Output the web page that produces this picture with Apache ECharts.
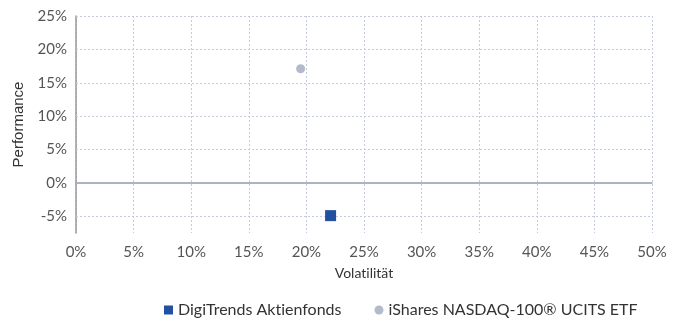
<!DOCTYPE html>
<html>
<head>
<meta charset="utf-8">
<script src="https://cdn.jsdelivr.net/npm/echarts@6/dist/echarts.min.js"></script>
<style>
  html, body { margin: 0; padding: 0; background: #fff; }
  #chart { width: 680px; height: 322px; }
</style>
</head>
<body>
<div id="chart"></div>
<script>
// Risk / return of the two funds (volatility %, performance %)
// (a zero-width non-joiner keeps the font from fusing "ti" into a ligature)
const seriesNames = ['DigiTrends Akt\u200Cienfonds', 'iShares NASDAQ-100® UCITS ETF'];
const digiTrends = [[22.1, -4.9]];
const iShares = [[19.5, 17.1]];
const yTicks = [-5, 0, 5, 10, 15, 20, 25];
const xTicks = [0, 5, 10, 15, 20, 25, 30, 35, 40, 45, 50];

const font = 'Lato, "Open Sans", sans-serif';
const gridColor = '#c5cbdc';

const chart = echarts.init(document.getElementById('chart'));
chart.setOption({
  animation: false,
  grid: { left: 76, right: 28, top: 16, bottom: 89 },
  legend: {
    top: 297,
    left: 159,
    itemGap: 33,
    itemWidth: 9,
    itemHeight: 9,
    textStyle: { fontFamily: font, fontSize: 16, color: '#333' },
    data: [
      { name: seriesNames[0], icon: 'rect' },
      { name: seriesNames[1], icon: 'circle' }
    ]
  },
  xAxis: {
    type: 'value',
    min: xTicks[0],
    max: xTicks[xTicks.length - 1],
    interval: 5,
    name: 'Volat\u200Cilität',
    nameLocation: 'middle',
    nameGap: 30,
    nameTextStyle: { fontFamily: font, fontSize: 14, color: '#333' },
    offset: 3,
    axisLine: { show: true, lineStyle: { color: '#999', width: 1.5 } },
    axisTick: { show: false },
    axisLabel: { fontFamily: font, fontSize: 15, color: '#555', margin: 9, formatter: v => v + '%' },
    splitLine: { show: true, lineStyle: { color: gridColor, type: [2, 2], width: 1 } }
  },
  yAxis: {
    type: 'value',
    min: -7.5,
    max: 25,
    name: 'Performance',
    nameLocation: 'middle',
    nameGap: 44,
    nameTextStyle: { fontFamily: '"Liberation Sans", Arial, sans-serif', fontSize: 15, color: '#333' },
    offset: 3,
    axisLine: { show: true, lineStyle: { color: '#999', width: 1.5 } },
    axisTick: { show: false, customValues: yTicks },
    axisLabel: { fontFamily: font, fontSize: 15, color: '#555', margin: 6, customValues: yTicks, formatter: v => v + '%' },
    splitLine: { show: false }
  },
  series: [
    {
      name: seriesNames[0],
      type: 'scatter',
      symbol: 'rect',
      symbolSize: 11,
      itemStyle: { color: '#2350a0', opacity: 1 },
      data: digiTrends,
      z: 5,
      // horizontal grid lines and the zero line
      markLine: {
        silent: true,
        symbol: 'none',
        label: { show: false },
        z: 1,
        data: yTicks.map(v => ({
          yAxis: v,
          lineStyle: v === 0
            ? { color: '#aab3c8', type: 'solid', width: 1.5 }
            : { color: gridColor, type: [2, 2], width: 1 }
        }))
      }
    },
    {
      name: seriesNames[1],
      type: 'scatter',
      symbol: 'circle',
      symbolSize: 9,
      itemStyle: { color: '#b3bacb', opacity: 1 },
      data: iShares,
      z: 5
    }
  ]
});
</script>
</body>
</html>
